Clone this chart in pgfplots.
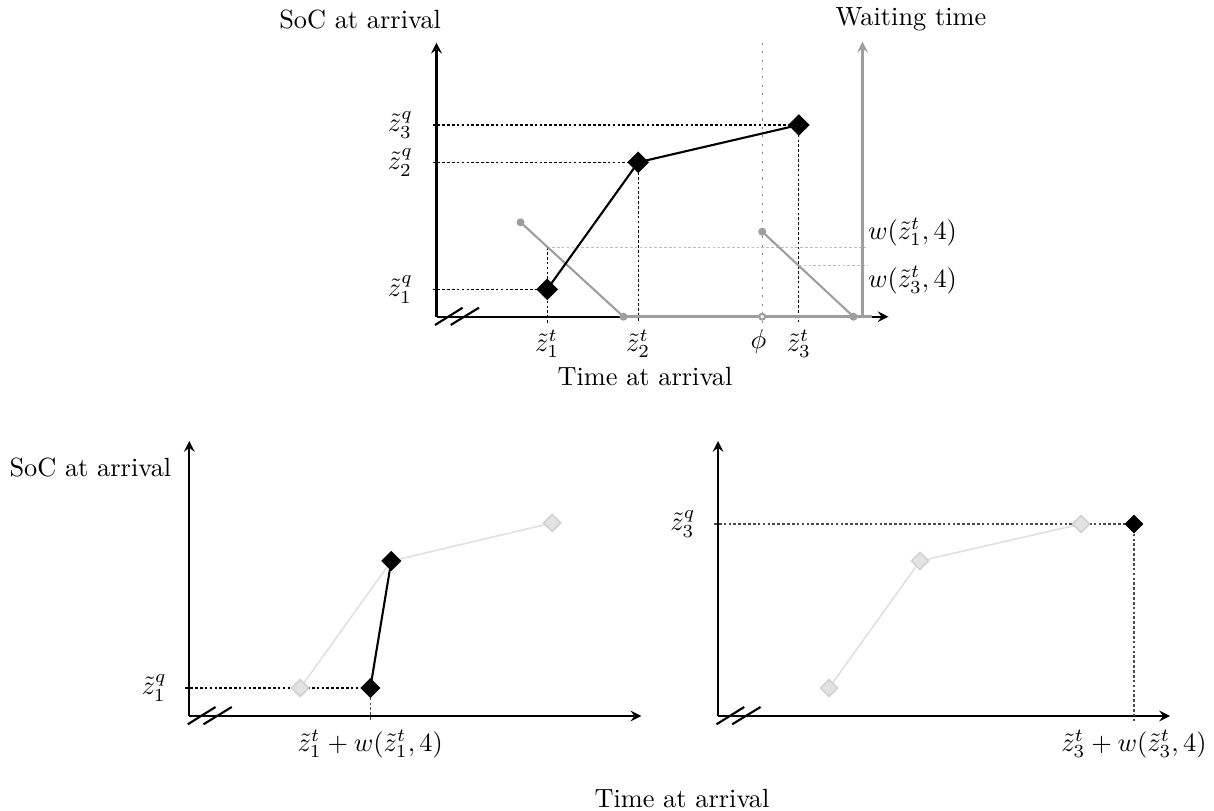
\documentclass[border=0pt]{standalone}
\usepackage{pgfplots}
\pgfplotsset{compat=1.18}
\definecolor{gmid}{gray}{0.62}
\definecolor{gdot}{gray}{0.55}
\definecolor{glight}{gray}{0.74}
\definecolor{gpale}{gray}{0.88}
\definecolor{gpalefill}{gray}{0.89}
\definecolor{gpaledraw}{gray}{0.82}
\pgfplotsset{
  myax/.style={
    x=0.38pt, y=0.38pt, xmin=0, xmax=452, ymin=0, ymax=274,
    axis lines=left,
    axis line style={thick, black, -stealth},
    xtick=\empty, ytick=\empty,
    clip=false, anchor=south west,
  },
  dsh/.style={line width=0.45pt, dash pattern=on 1pt off 0.85pt},
}
\begin{document}
\begin{tikzpicture}[x=0.38pt,y=0.38pt]
\useasboundingbox (0,0) rectangle (1214,811);

% ---------------- top axis ----------------
\begin{axis}[myax, at={(436.5,494.3)}]
% black dashed guides
\addplot[black, dsh] coordinates {(-4,191.7) (362.3,191.7)};
\addplot[black, dsh] coordinates {(-4,154.4) (201.7,154.4)};
\addplot[black, dsh] coordinates {(-4,27.4) (110.7,27.4)};
\addplot[black, dsh] coordinates {(110.7,69.5) (110.7,-6)};
\addplot[black, dsh] coordinates {(201.7,154.4) (201.7,-6)};
\addplot[black, dsh] coordinates {(362.3,191.7) (362.3,-6)};
% light gray dashed guides
\addplot[glight, dsh] coordinates {(110.7,69.5) (431.5,69.5)};
\addplot[glight, dsh] coordinates {(362.3,51.5) (431.5,51.5)};
% dotted phi line
\addplot[gdot, line width=0.5pt, dash pattern=on 0.8pt off 2.4pt] coordinates {(325.7,274) (325.7,-16)};
% waiting time axis
\addplot[gmid, thick, -stealth] coordinates {(426,0) (426,275)};
\addplot[gmid, very thick] coordinates {(187,0) (435,0)};
\addplot[gmid, thick, mark=*, mark size=1.1pt, mark options={fill=gmid, draw=gmid}] coordinates {(84,94.4) (187,0)};
\addplot[gmid, thick, mark=*, mark size=1.1pt, mark options={fill=gmid, draw=gmid}] coordinates {(325.7,85) (417,0)};
\addplot[only marks, mark=*, mark size=1.1pt, mark options={fill=white, draw=gmid, thick}] coordinates {(325.7,0)};
% black curve
\addplot[black, thick, mark=square*, mark size=2.5pt, mark options={rotate=45}] coordinates {(110.7,27.4) (201.7,154.4) (362.3,191.7)};
% break marks
\addplot[black, thick] coordinates {(-1.5,-8.3) (26.2,9)};
\addplot[black, thick] coordinates {(14.2,-8.3) (42.5,9)};
% labels
\node[anchor=east, inner sep=0] at (axis cs:-23,191.7) {$\tilde{z}_3^q$};
\node[anchor=east, inner sep=0] at (axis cs:-23,154.4) {$\tilde{z}_2^q$};
\node[anchor=east, inner sep=0] at (axis cs:-23,27.4) {$\tilde{z}_1^q$};
\node[anchor=north, inner sep=0] at (axis cs:110.7,-13) {$\tilde{z}_1^t$};
\node[anchor=north, inner sep=0] at (axis cs:201.7,-13) {$\tilde{z}_2^t$};
\node[anchor=north, inner sep=0] at (axis cs:322,-13) {$\phi$};
\node[anchor=north, inner sep=0] at (axis cs:362.3,-13) {$\tilde{z}_3^t$};
\node[anchor=south west, inner sep=0] at (axis cs:431,70.5) {$w(\tilde{z}_1^t,4)$};
\node[anchor=north west, inner sep=0] at (axis cs:431,51) {$w(\tilde{z}_3^t,4)$};
\node[anchor=base east, inner sep=0] at (axis cs:5,288.5) {SoC at arrival};
\node[anchor=base east, inner sep=0] at (axis cs:550.2,290.7) {Waiting time};
\node[anchor=north, inner sep=0] at (axis cs:208.5,-50.3) {Time at arrival};
\end{axis}

% ---------------- bottom left axis ----------------
\begin{axis}[myax, ymax=275, at={(189.3,95)}]
\addplot[black, dsh] coordinates {(-4,28) (181,28)};
\addplot[black!70, dsh] coordinates {(181,28) (181,-5)};
\addplot[gpale, semithick, mark=square*, mark size=2.3pt, mark options={rotate=45, fill=gpalefill, draw=gpaledraw}] coordinates {(111,28) (202,155) (363,193)};
\addplot[black, thick, mark=square*, mark size=2.3pt, mark options={rotate=45}] coordinates {(181,28) (202,155)};
\addplot[black, thick] coordinates {(-1.5,-8.3) (26.2,9)};
\addplot[black, thick] coordinates {(14.2,-8.3) (42.5,9)};
\node[anchor=east, inner sep=0] at (axis cs:-22,28) {$\tilde{z}_1^q$};
\node[anchor=north, inner sep=0] at (axis cs:181,-14) {$\tilde{z}_1^t + w(\tilde{z}_1^t,4)$};
\node[anchor=base east, inner sep=0] at (axis cs:-17.5,239) {SoC at arrival};
\node[anchor=north, inner sep=0] at (axis cs:492.7,-73) {Time at arrival};
\end{axis}

% ---------------- bottom right axis ----------------
\begin{axis}[myax, ymax=275, at={(718,95)}]
\addplot[black!70, dsh] coordinates {(-4,192) (416,192)};
\addplot[black!70, dsh] coordinates {(416,192) (416,-6)};
\addplot[gpale, semithick, mark=square*, mark size=2.3pt, mark options={rotate=45, fill=gpalefill, draw=gpaledraw}] coordinates {(111,28) (202,155) (363,192)};
\addplot[only marks, black, mark=square*, mark size=2.3pt, mark options={rotate=45}] coordinates {(416,192)};
\addplot[black, thick] coordinates {(-1.5,-8.3) (26.2,9)};
\addplot[black, thick] coordinates {(14.2,-8.3) (42.5,9)};
\node[anchor=east, inner sep=0] at (axis cs:-22,192) {$\tilde{z}_3^q$};
\node[anchor=north, inner sep=0] at (axis cs:416,-14) {$\tilde{z}_3^t + w(\tilde{z}_3^t,4)$};
\end{axis}
\end{tikzpicture}
\end{document}
